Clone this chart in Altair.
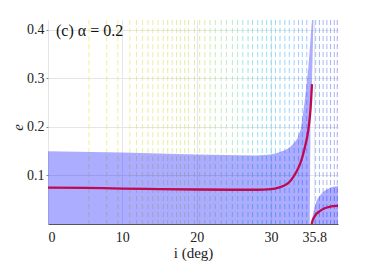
import altair as alt
import pandas as pd

# contour line positions (deg), drawn as faint dashed verticals
contour_i = [5.5, 7.9, 9.4, 11.0, 11.9, 12.7, 13.45, 14.1, 14.8, 15.5, 16.1, 16.7,
             17.3, 17.8, 18.4, 18.9, 19.7, 20.4, 21.1, 21.8, 22.5, 23.3, 24.0, 24.8,
             25.5, 26.2, 26.9, 27.5, 28.2, 28.8, 29.4, 30.0, 30.6, 31.2, 31.85, 32.45,
             33.1, 33.7, 34.2, 34.8, 36.0, 36.5, 37.0, 37.5, 38.0, 38.5, 38.9]

# shaded band (left branch)
band_i = [0, 10, 20, 28, 30, 31, 32, 32.5, 33, 33.5, 34, 34.5, 35, 35.2, 35.3, 35.5, 35.7]
band_hi = [0.150, 0.147, 0.143, 0.141, 0.143, 0.147, 0.153, 0.158, 0.165, 0.175,
           0.195, 0.25, 0.32, 0.36, 0.38, 0.42, 0.42]
band_lo = [0, 0, 0, 0, 0, 0, 0, 0, 0, 0, 0, 0, 0, 0, 0.215, 0.29, 0.42]

# shaded band (right branch)
hump_i = [35.45, 35.6, 35.8, 36.0, 36.5, 37.0, 37.5, 38.0, 38.5, 39.0]
hump_hi = [0, 0.018, 0.030, 0.042, 0.057, 0.066, 0.071, 0.075, 0.077, 0.078]
hump_lo = [0, 0, 0, 0, 0, 0, 0, 0, 0, 0]

# red curves
red1_i = [0, 5, 10, 15, 20, 25, 28, 30, 31, 32, 32.5, 33, 33.5, 34, 34.5, 35, 35.3, 35.5]
red1_e = [0.075, 0.0745, 0.073, 0.072, 0.071, 0.0705, 0.0705, 0.072, 0.075, 0.081,
          0.087, 0.097, 0.11, 0.128, 0.155, 0.193, 0.235, 0.288]
red2_i = [35.45, 35.6, 35.8, 36.0, 36.5, 37.0, 37.5, 38.0, 38.5, 39.0]
red2_e = [0, 0.008, 0.014, 0.019, 0.026, 0.031, 0.034, 0.036, 0.037, 0.038]

x_ticks = [0, 10, 20, 30, 35.8]
y_ticks = [0.1, 0.2, 0.3, 0.4]
panel_title = "(c) α = 0.2"

FONT = "Liberation Serif"

xenc = alt.X("i:Q",
             scale=alt.Scale(domain=[0, 39], nice=False, zero=False),
             axis=alt.Axis(values=x_ticks,
                           labelExpr="datum.value == 35.8 ? '35.8' : format(datum.value, 'd')",
                           title="i (deg)",
                           grid=True, tickSize=0, labelPadding=6,
                           domainColor="#555555",
                           titleBaseline="middle", titleY=28))
yenc = alt.Y("e:Q",
             scale=alt.Scale(domain=[0, 0.42], nice=False),
             axis=alt.Axis(values=y_ticks, format=".1f", title="e",
                           titleFontStyle="italic", domain=False, grid=True,
                           tickSize=2, tickColor="#888888", labelPadding=2,
                           titleBaseline="middle", titleX=-31, titleY=107))

contours = alt.Chart(pd.DataFrame({"i": contour_i})).mark_rule(
    strokeWidth=1, strokeDash=[5, 3], opacity=0.55
).encode(
    x=xenc,
    color=alt.Color("i:Q", legend=None,
                    scale=alt.Scale(domain=[5, 20, 25, 29, 33, 39],
                                    range=["#f5e23c", "#c8d860", "#7fd8a0",
                                           "#40c8e0", "#58a8f8", "#6a5ee8"]))
)

band = alt.Chart(pd.DataFrame({"i": band_i, "e": band_lo, "e2": band_hi})).mark_area(
    color="#0000ff", opacity=0.32, clip=True
).encode(x=xenc, y=yenc, y2="e2:Q")

hump = alt.Chart(pd.DataFrame({"i": hump_i, "e": hump_lo, "e2": hump_hi})).mark_area(
    color="#0000ff", opacity=0.32, interpolate="monotone"
).encode(x=xenc, y=yenc, y2="e2:Q")

red1 = alt.Chart(pd.DataFrame({"i": red1_i, "e": red1_e})).mark_line(
    color="#bf0a4f", strokeWidth=2.3, interpolate="monotone"
).encode(x=xenc, y=yenc)

red2 = alt.Chart(pd.DataFrame({"i": red2_i, "e": red2_e})).mark_line(
    color="#bf0a4f", strokeWidth=2.3, interpolate="monotone"
).encode(x=xenc, y=yenc)

label = alt.Chart(pd.DataFrame({"t": [panel_title]})).mark_text(
    align="left", baseline="middle", font=FONT, fontSize=16, color="#111111"
).encode(x=alt.value(8), y=alt.value(11), text="t:N")

chart = alt.layer(contours, band, hump, red1, red2, label).properties(
    width=290, height=204,
    autosize=alt.AutoSizeParams(type="none"),
    padding={"left": 40, "top": 12, "right": 28, "bottom": 38},
).configure_view(stroke=None).configure_axis(
    labelFont=FONT, titleFont=FONT, labelFontSize=14, titleFontSize=15,
    labelColor="#222222", titleColor="#222222", titleFontWeight="normal",
    gridColor="#e6e6e6", gridWidth=1
)

chart.save("out.html", embed_options={"renderer": "svg", "actions": False})
